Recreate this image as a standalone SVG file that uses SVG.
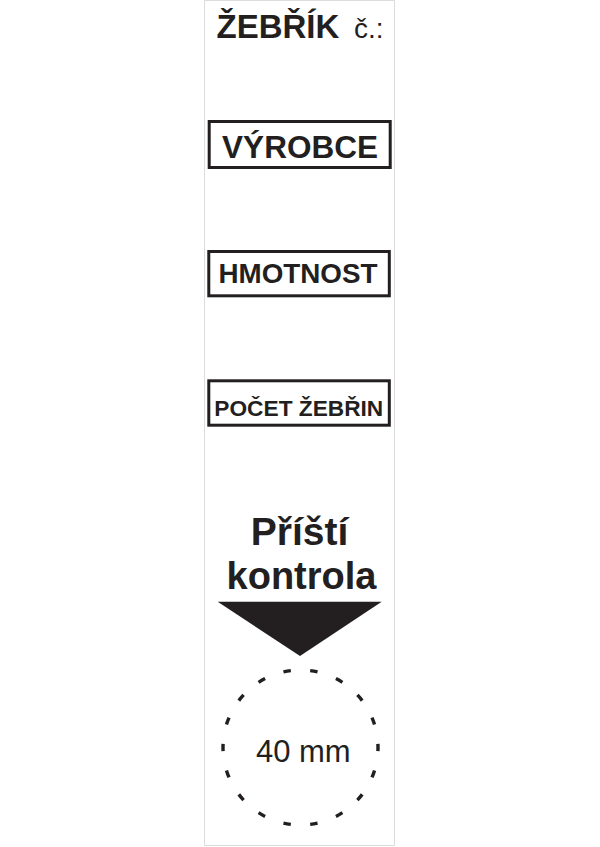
<svg xmlns="http://www.w3.org/2000/svg" width="600" height="847" viewBox="0 0 600 847">
<style>
.t{font-family:"Liberation Sans",Arial,sans-serif;fill:#231f20;}
.b{font-weight:bold;}
.box{fill:none;stroke:#231f20;stroke-width:3;}
</style>
<rect width="600" height="847" fill="#fff"/>
<rect id="strip" x="204.5" y="0.5" width="190" height="845" fill="#fff" stroke="#dcdcdc" stroke-width="1"/>
<g id="title">
<text class="t b" x="216.5" y="37.7" font-size="33">ŽEBŘÍK</text>
<text class="t" x="354" y="37.7" font-size="28">č.:</text>
</g>
<g id="vyrobce">
<rect class="box" x="209.2" y="121.5" width="181" height="46"/>
<text class="t b" x="300" y="157.7" font-size="31.5" text-anchor="middle">VÝROBCE</text>
</g>
<g id="hmotnost">
<rect class="box" x="208.8" y="251.5" width="180.5" height="44.3"/>
<text class="t b" x="298" y="282.7" font-size="27.8" text-anchor="middle">HMOTNOST</text>
</g>
<g id="pocet">
<rect class="box" x="208.8" y="380.8" width="180.5" height="44.4"/>
<text class="t b" x="298.8" y="416" font-size="22.7" text-anchor="middle">POČET ŽEBŘIN</text>
</g>
<g id="kontrola">
<text class="t b" x="299.5" y="545" font-size="39" text-anchor="middle">Příští</text>
<text class="t b" x="301.5" y="589.3" font-size="38" text-anchor="middle">kontrola</text>
<polygon points="217.7,601.7 381.7,601.7 300,656" fill="#231f20"/>
</g>
<g id="circle">
<circle cx="300.5" cy="747.5" r="77.5" fill="none" stroke="#231f20" stroke-width="3.4" pathLength="360" stroke-dasharray="5.5 14.5" stroke-dashoffset="2.75"/>
<text class="t" x="303.3" y="761.7" font-size="31" text-anchor="middle">40 mm</text>
</g>
</svg>
